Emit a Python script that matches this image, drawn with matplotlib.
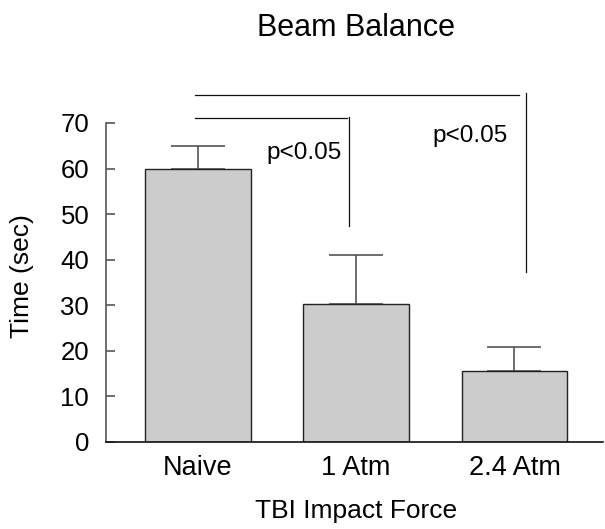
"""
Beam Balance bar chart with error bars and significance brackets
"""
import matplotlib
matplotlib.use('Agg')
import matplotlib.pyplot as plt

plt.rcParams['font.family'] = ['Liberation Sans', 'DejaVu Sans']

# data
groups = ['Naive', '1 Atm', '2.4 Atm']
times = [60, 30.2, 15.5]
errors = [5, 10.8, 5.4]
p_text = ['p<0.05', 'p<0.05']

fig = plt.figure(figsize=(6.05, 5.29), dpi=100)
ax = fig.add_axes([0.175, 0.1645, 0.822, 0.603])

x = list(range(len(groups)))
ax.bar(x, times, width=0.667, color='#cccccc', edgecolor='#222222', linewidth=1.0, zorder=2)
ax.errorbar(x, times, yerr=[[0] * len(errors), errors], fmt='none',
            ecolor='#555555', elinewidth=1.2, capsize=19.5, capthick=1.2, zorder=1)

ax.set_xlim(-0.58, 2.56)
ax.set_ylim(0, 70)
ax.set_yticks(range(0, 71, 10))
ax.set_xticks(x)
ax.set_xticklabels(groups, fontsize=19.5)
ax.tick_params(axis='y', direction='in', length=6.5, width=1.2, color='#555555',
               labelsize=18.5, pad=12)
ax.tick_params(axis='x', length=0, pad=9.5)

for s in ['top', 'right']:
    ax.spines[s].set_visible(False)
ax.spines['left'].set_color('#555555')
ax.spines['left'].set_linewidth(1.2)
ax.spines['bottom'].set_color('#111111')
ax.spines['bottom'].set_linewidth(1.2)

fig.text(0.036, 0.478, 'Time (sec)', fontsize=19, rotation=90, ha='center', va='center')
fig.text(0.589, 0.021, 'TBI Impact Force', fontsize=19, ha='center', va='baseline')

# significance brackets (outside axes)
ax.plot([-0.02, 2.03], [76.1, 76.1], color='#111111', lw=0.9, clip_on=False)
ax.plot([2.07, 2.07], [76.5, 37.3], color='#111111', lw=0.9, clip_on=False)
ax.plot([-0.02, 0.94], [71.2, 71.2], color='#111111', lw=0.9, clip_on=False)
ax.plot([0.955, 0.955], [71.4, 47.4], color='#111111', lw=0.9, clip_on=False)
ax.text(0.434, 62.1, p_text[0], fontsize=17.5, va='baseline', ha='left')
ax.text(1.484, 65.9, p_text[1], fontsize=17.5, va='baseline', ha='left')

fig.text(0.589, 0.932, 'Beam Balance', fontsize=22, ha='center', va='baseline')

plt.savefig('out.png', dpi=100)
